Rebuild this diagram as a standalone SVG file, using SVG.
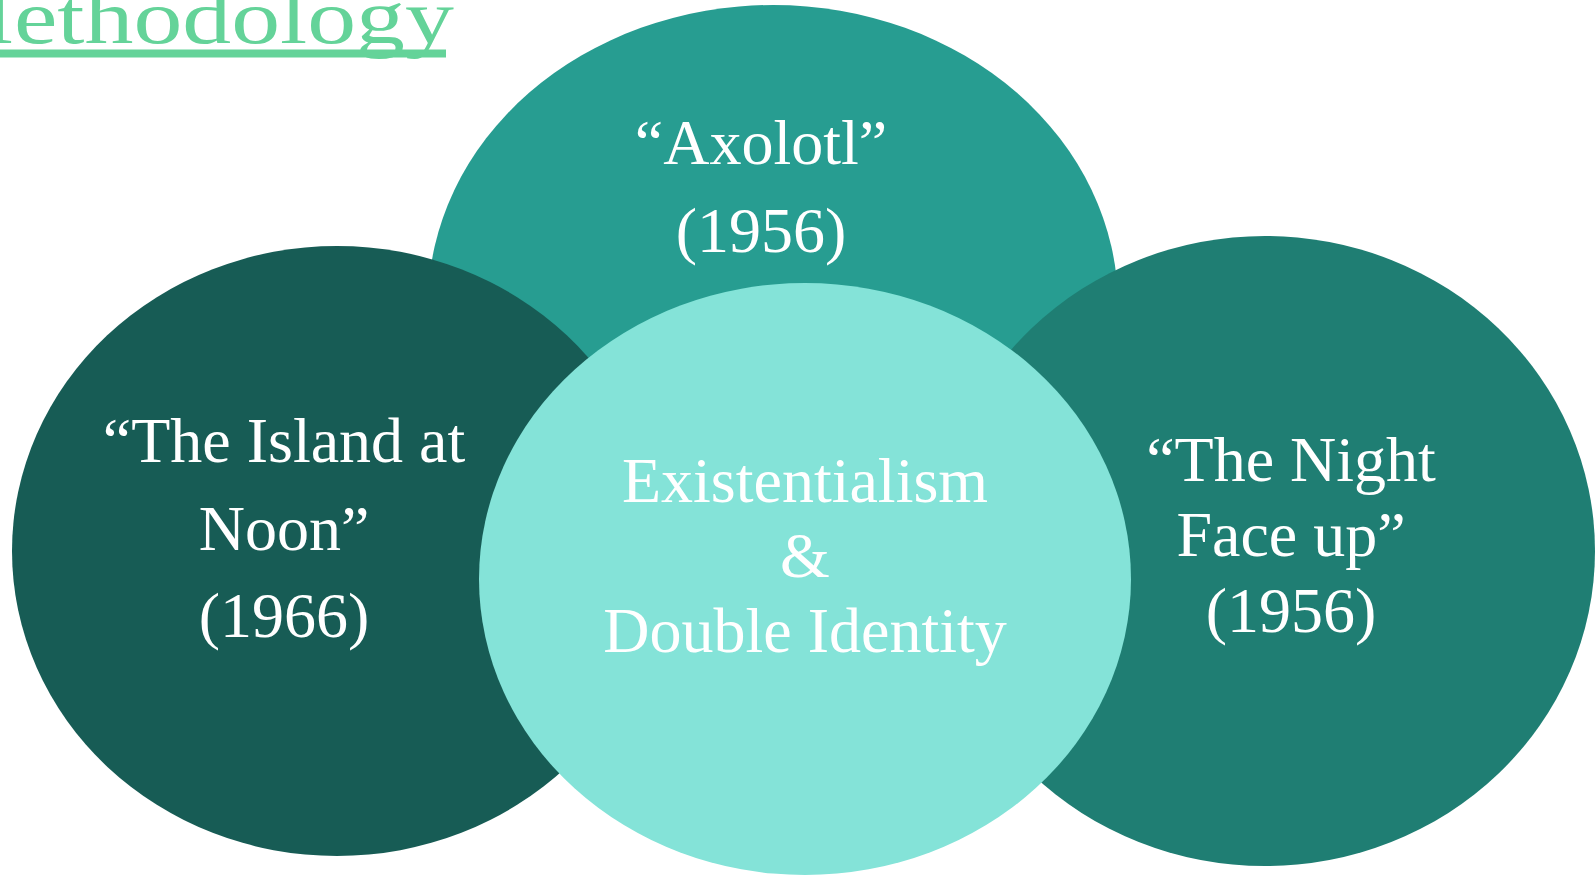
<svg xmlns="http://www.w3.org/2000/svg" width="1596" height="875" viewBox="0 0 1596 875">
<style>
  .lbl { font-family: "Liberation Serif", "Times New Roman", serif; font-size: 64px; fill: #ffffff; text-anchor: middle; }
  .title { font-family: "Liberation Serif", "Times New Roman", serif; font-size: 77px; fill: #64D399; }
</style>
<rect x="0" y="0" width="1596" height="875" fill="#ffffff"/>
<g id="title">
  <text class="title" transform="translate(-73,42.7) scale(1.27,1)">Methodology</text>
  <rect x="0" y="49.5" width="446" height="8" fill="#64D399"/>
</g>
<g id="node-axolotl">
  <ellipse cx="773" cy="305" rx="345" ry="300" fill="#279D91"/>
  <text class="lbl" x="761" y="164">“Axolotl”</text>
  <text class="lbl" x="761" y="252">(1956)</text>
</g>
<g id="node-island">
  <ellipse cx="337" cy="551" rx="325" ry="305" fill="#175C55"/>
  <text class="lbl" x="284" y="462">“The Island at</text>
  <text class="lbl" x="284" y="550">Noon”</text>
  <text class="lbl" x="284" y="637">(1966)</text>
</g>
<g id="node-night">
  <ellipse cx="1265" cy="551" rx="330" ry="315" fill="#1F7E73"/>
  <text class="lbl" x="1291" y="481">“The Night</text>
  <text class="lbl" x="1291" y="556">Face up”</text>
  <text class="lbl" x="1291" y="632">(1956)</text>
</g>
<g id="node-center">
  <ellipse cx="805" cy="579" rx="326" ry="296" fill="#84E3D8"/>
  <text class="lbl" x="805" y="502">Existentialism</text>
  <text class="lbl" x="805" y="577">&amp;</text>
  <text class="lbl" x="805" y="652">Double Identity</text>
</g>
<g id="connectors"></g>
</svg>
